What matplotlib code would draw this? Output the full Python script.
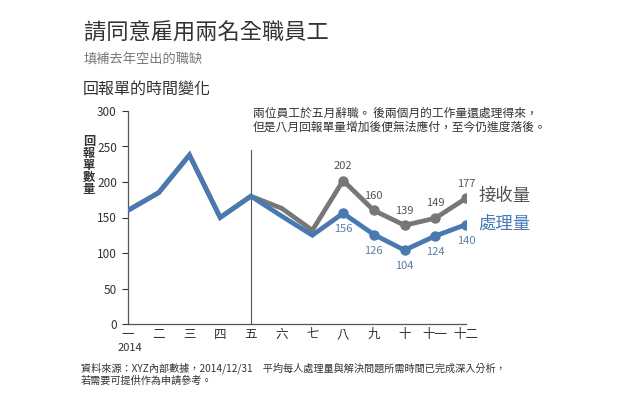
import numpy as np
import matplotlib.pyplot as plt

plt.rcParams['font.family'] = ['Noto Sans CJK TC', 'DejaVu Sans']

# Data
months = ["一", "二", "三", "四", "五", "六", "七", "八", "九", "十", "十一", "十二"]
received = [160, 185, 238, 150, 180, 163, 132, 202, 160, 139, 149, 177]
processed = [160, 185, 238, 150, 180, 152, 125, 156, 126, 104, 124, 140]
label_start = 7  # labels and markers from August on
ylabel = "回報單數量"

blue = "#4a78b0"
gray = "#777777"
text_c = "#333333"

W, H = 634, 394
fig = plt.figure(figsize=(W / 100, H / 100), dpi=100)
ax = fig.add_axes([128 / W, 1 - 324 / H, (466 - 128) / W, (324 - 111) / H])

x = np.arange(len(months))
ax.plot(x, received, color=gray, lw=3.4, solid_joinstyle="miter", zorder=2)
ax.plot(x, processed, color=blue, lw=3.4, solid_joinstyle="miter", zorder=3)
ax.plot(x[label_start:], received[label_start:], "o", color=gray, ms=6.5, zorder=2)
ax.plot(x[label_start:], processed[label_start:], "o", color=blue, ms=6.5, zorder=3)

for i in range(label_start, len(months)):
    ax.annotate(str(received[i]), (x[i], received[i]), xytext=(0, 7), textcoords="offset points",
                ha="center", va="bottom", fontsize=8, color="#555555")
    ax.annotate(str(processed[i]), (x[i], processed[i]), xytext=(0, -8), textcoords="offset points",
                ha="center", va="top", fontsize=8, color="#5a7ea8")

# vertical marker at May
ax.plot([4, 4], [0, 245], color="#555555", lw=0.8, zorder=1)

ax.set_xlim(0, 11)
ax.set_ylim(0, 300)
ax.set_yticks(range(0, 301, 50))
ax.set_xticks(x)
ax.set_xticklabels(months)
ax.tick_params(axis="x", length=0, pad=3, labelsize=9, colors=text_c)
ax.tick_params(axis="y", length=4, width=0.8, pad=4, labelsize=8.5, colors=text_c)
for s in ["top", "right"]:
    ax.spines[s].set_visible(False)
for s in ["left", "bottom"]:
    ax.spines[s].set_color("#555555")
    ax.spines[s].set_linewidth(0.9)

# series labels
ax.text(11.4, 180, "接收量", color="#555555", fontsize=12.5, va="center", ha="left")
ax.text(11.4, 141, "處理量", color="#4a7ab5", fontsize=12.5, va="center", ha="left")

# texts
fig.text(84 / W, 1 - 33 / H, "請同意雇用兩名全職員工", fontsize=16, color=text_c, va="center")
fig.text(84 / W, 1 - 59 / H, "填補去年空出的職缺", fontsize=9.5, color="#777777", va="center")
fig.text(83 / W, 1 - 89 / H, "回報單的時間變化", fontsize=11.5, color=text_c, va="center")
for k, ch in enumerate(ylabel):
    fig.text(89 / W, 1 - (141 + 12.2 * k) / H, ch, fontsize=8.8, color=text_c,
             va="center", ha="center", fontweight="bold")
fig.text(253 / W, 1 - 120 / H, "兩位員工於五月辭職。 後兩個月的工作量還處理得來，\n但是八月回報單量增加後便無法應付，至今仍進度落後。",
         fontsize=8.5, color=text_c, va="center", linespacing=1.15)
fig.text(118 / W, 1 - 348 / H, "2014", fontsize=8, color=text_c, va="center")
fig.text(81 / W, 1 - 374 / H, "資料來源：XYZ內部數據，2014/12/31　平均每人處理量與解決問題所需時間已完成深入分析，\n若需要可提供作為申請參考。",
         fontsize=7.3, color=text_c, va="center", linespacing=1.25)

fig.savefig("out.png", dpi=100)
